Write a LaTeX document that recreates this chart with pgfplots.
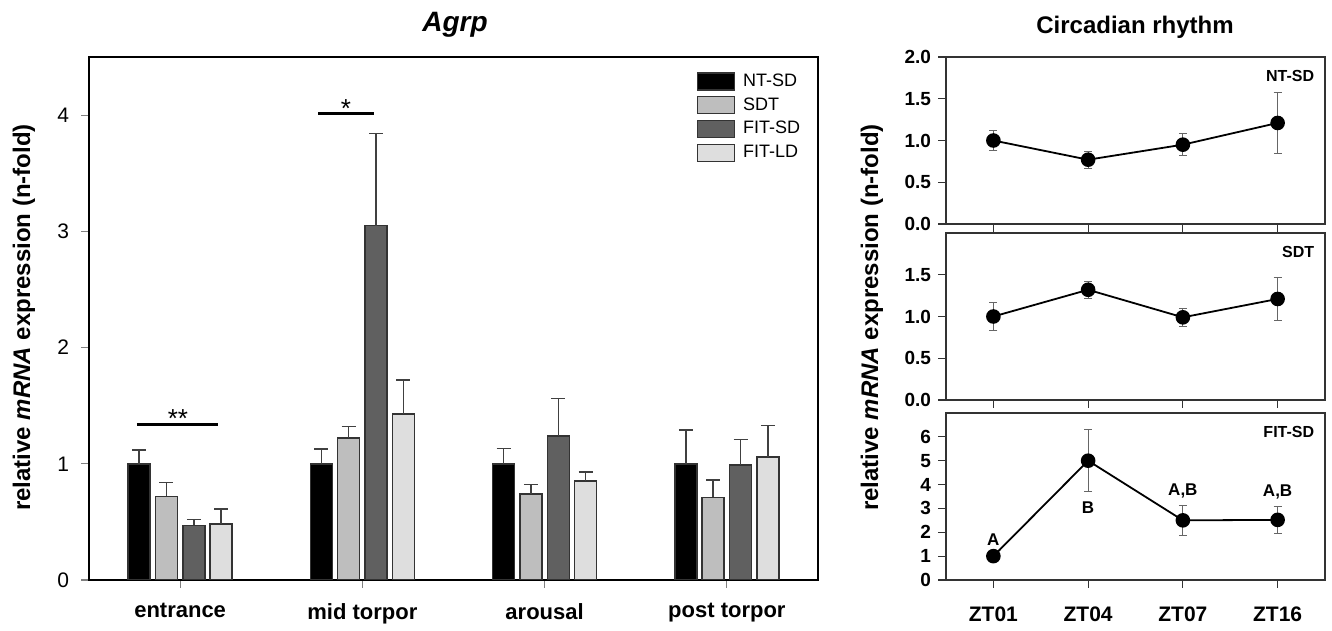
\documentclass[border=0pt]{standalone}
\usepackage{pgfplots}
\pgfplotsset{compat=1.18}
\usepackage{fontspec}
\setmainfont{Liberation Sans}
\definecolor{cSDT}{HTML}{BEBEBE}
\definecolor{cFIT}{HTML}{606060}
\definecolor{cLD}{HTML}{DEDEDE}
\definecolor{cEdge}{HTML}{333333}
\definecolor{cErr}{HTML}{404040}
\pgfplotsset{
  barplot/.style={ybar, bar width=11pt, bar shift=0pt, draw=cEdge, line width=0.75pt,
    error bars/y dir=plus, error bars/y explicit,
    error bars/error bar style={color=cErr, line width=0.75pt},
    error bars/error mark options={color=cErr, line width=0.75pt, mark size=3.5pt, rotate=90}},
  panel/.style={width=189.5pt, height=83.5pt, scale only axis,
    xmin=-0.5, xmax=3.5, xtick={0,1,2,3}, tick align=outside, tick pos=left,
    major tick length=4pt, axis line style={color=black!80, line width=0.6pt},
    tick style={color=black!80, line width=0.6pt},
    /pgf/number format/assume math mode=true,
    y tick label style={font=\bfseries\fontsize{9.5}{10}\selectfont,
      /pgf/number format/.cd, fixed, fixed zerofill, precision=1},
    x tick label style={font=\bfseries\fontsize{10.5}{12}\selectfont, yshift=-6pt}},
  circ/.style={black, line width=0.9pt, mark=*, mark size=3.2pt,
    error bars/y dir=both, error bars/y explicit,
    error bars/error bar style={color=black!60, line width=0.5pt},
    error bars/error mark options={color=black!60, line width=0.5pt, mark size=2pt, rotate=90}},
}
\begin{document}
\begin{tikzpicture}[x=1pt,y=1pt]
\path (-44.5,-21) rectangle (621.5,290);
% left: Agrp bar chart (groups at 0..3, four bars offset by 0.15)
\begin{axis}[at={(0pt,0pt)}, anchor=south west, width=364.5pt, height=261.5pt, scale only axis,
  xmin=-0.5, xmax=3.5, ymin=0, ymax=4.5,
  xtick={0,1,2,3}, xticklabels={entrance, mid torpor, arousal, post torpor},
  ytick={0,1,2,3,4},
  tick align=outside, tick pos=left, major tick length=4pt,
  axis line style={line width=0.6pt}, tick style={line width=0.6pt},
  /pgf/number format/assume math mode=true,
  y tick label style={font=\fontsize{10.5}{12}\selectfont, xshift=-2.5pt},
  x tick label style={font=\bfseries\fontsize{11}{13}\selectfont, yshift=-4pt},
  legend image code/.code={\draw[#1] (0pt,-4.25pt) rectangle (18.5pt,4.25pt);},
  legend style={at={(0.833,0.975)}, anchor=north west, draw=none, fill=none,
    font=\fontsize{9}{10}\selectfont, row sep=1.2pt, inner sep=0pt,
    nodes={inner sep=1.5pt}},
  legend cell align=left]
\addplot[barplot, fill=black] coordinates {
  (-0.225,1.00) +- (0,0.12) (0.775,1.00) +- (0,0.125) (1.775,1.00) +- (0,0.13) (2.775,1.00) +- (0,0.29)};
\addplot[barplot, fill=cSDT] coordinates {
  (-0.075,0.72) +- (0,0.12) (0.925,1.22) +- (0,0.10) (1.925,0.74) +- (0,0.08) (2.925,0.71) +- (0,0.15)};
\addplot[barplot, fill=cFIT] coordinates {
  (0.075,0.47) +- (0,0.05) (1.075,3.05) +- (0,0.79) (2.075,1.24) +- (0,0.32) (3.075,0.99) +- (0,0.22)};
\addplot[barplot, fill=cLD] coordinates {
  (0.225,0.48) +- (0,0.13) (1.225,1.43) +- (0,0.29) (2.225,0.85) +- (0,0.08) (3.225,1.06) +- (0,0.27)};
\legend{\hspace{2.5pt}NT-SD, \hspace{2.5pt}SDT, \hspace{2.5pt}FIT-SD, \hspace{2.5pt}FIT-LD}
\draw[line width=1.5pt] (axis cs:0.757,4.01) -- (axis cs:1.064,4.01);
\node[font=\fontsize{13}{13}\selectfont] at (axis cs:0.91,4.06) {*};
\draw[line width=1.5pt] (axis cs:-0.237,1.335) -- (axis cs:0.208,1.335);
\node[font=\fontsize{13}{13}\selectfont] at (axis cs:-0.012,1.385) {**};
\end{axis}
\node[font=\bfseries\itshape\fontsize{14}{16}\selectfont] at (183,277.5) {Agrp};
\node[rotate=90, font=\bfseries\fontsize{12}{14}\selectfont] at (-32.5,131.25)
  {relative \textit{mRNA} expression (n-fold)};
% right: circadian panels
\begin{axis}[panel, at={(428.5pt,178pt)}, anchor=south west,
  ymin=0, ymax=2, ytick={0,0.5,1,1.5,2}, xticklabels={}]
\addplot[circ] coordinates {
  (0,1.00) +- (0,0.12) (1,0.77) +- (0,0.10) (2,0.95) +- (0,0.13) (3,1.21) +- (0,0.36)};
\node[anchor=north east, font=\bfseries\fontsize{8}{9}\selectfont] at (rel axis cs:0.99,0.96) {NT-SD};
\end{axis}
\begin{axis}[panel, at={(428.5pt,90pt)}, anchor=south west,
  ymin=0, ymax=2, ytick={0,0.5,1,1.5}, xticklabels={}]
\addplot[circ] coordinates {
  (0,1.00) +- (0,0.17) (1,1.32) +- (0,0.105) (2,0.99) +- (0,0.11) (3,1.21) +- (0,0.26)};
\node[anchor=north east, font=\bfseries\fontsize{8}{9}\selectfont] at (rel axis cs:0.99,0.96) {SDT};
\end{axis}
\begin{axis}[panel, at={(428.5pt,0pt)}, anchor=south west,
  ymin=0, ymax=7, ytick={0,1,2,3,4,5,6},
  y tick label style={/pgf/number format/.cd, precision=0, fixed zerofill=false},
  xticklabels={ZT01, ZT04, ZT07, ZT16}]
\addplot[circ] coordinates {
  (0,1.00) +- (0,0.05) (1,5.00) +- (0,1.30) (2,2.50) +- (0,0.63) (3,2.52) +- (0,0.57)};
\node[anchor=north east, font=\bfseries\fontsize{8}{9}\selectfont] at (rel axis cs:0.99,0.96) {FIT-SD};
\node[font=\bfseries\fontsize{8.5}{9}\selectfont] at (axis cs:0,1.68) {A};
\node[font=\bfseries\fontsize{8.5}{9}\selectfont] at (axis cs:1,3.02) {B};
\node[font=\bfseries\fontsize{8.5}{9}\selectfont] at (axis cs:2,3.74) {A,B};
\node[font=\bfseries\fontsize{8.5}{9}\selectfont] at (axis cs:3,3.68) {A,B};
\end{axis}
\node[font=\bfseries\fontsize{12}{14}\selectfont] at (523,276.5) {Circadian rhythm};
\node[rotate=90, font=\bfseries\fontsize{12}{14}\selectfont] at (391.5,131.25)
  {relative \textit{mRNA} expression (n-fold)};
\end{tikzpicture}
\end{document}
